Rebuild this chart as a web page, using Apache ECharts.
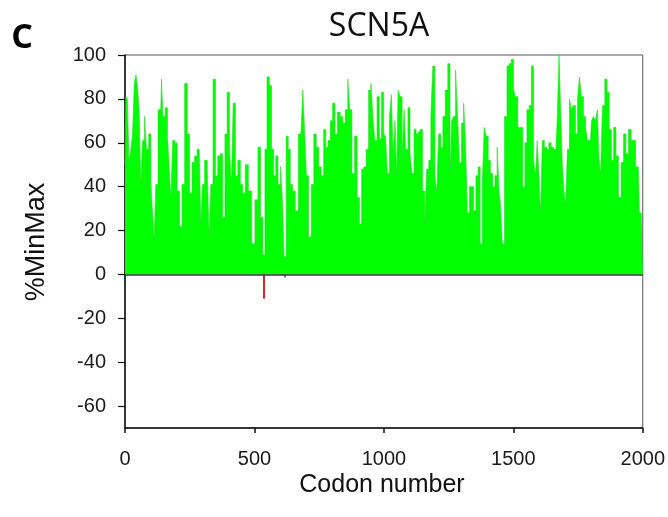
<!DOCTYPE html>
<html>
<head>
<meta charset="utf-8">
<script src="https://cdn.jsdelivr.net/npm/echarts@6/dist/echarts.min.js"></script>
<style>
  html, body { margin: 0; padding: 0; background: #fff; }
  #chart { width: 668px; height: 517px; }
</style>
</head>
<body>
<div id="chart"></div>
<script>
// codon positions and %MinMax (peaks and dips of the envelope)
var codons = [
  0, 6, 12, 19, 26, 32, 40, 45, 51, 58, 64, 71, 80, 86, 97, 103, 109, 116, 122, 133,
  138, 144, 149, 161, 167, 174, 180, 189, 197, 206, 215, 225, 236, 245, 254, 264, 274, 283, 290, 296,
  302, 313, 322, 328, 335, 345, 354, 363, 373, 382, 390, 399, 408, 414, 422, 431, 441, 450, 459, 470,
  483, 496, 508, 519, 528, 537, 544, 553, 562, 570, 579, 586, 596, 605, 611, 618, 627, 634, 643, 652,
  663, 676, 683, 691, 698, 704, 714, 725, 734, 744, 753, 763, 772, 779, 789, 797, 807, 815, 826, 836,
  846, 856, 865, 871, 882, 892, 901, 910, 918, 927, 936, 946, 954, 961, 969, 978, 987, 995, 1003, 1010,
  1017, 1026, 1032, 1040, 1046, 1052, 1058, 1066, 1075, 1081, 1088, 1098, 1104, 1113, 1120, 1129, 1136, 1145, 1154, 1162,
  1169, 1178, 1185, 1193, 1201, 1207, 1216, 1224, 1232, 1242, 1252, 1259, 1265, 1273, 1281, 1288, 1296, 1304, 1312, 1319,
  1326, 1335, 1342, 1351, 1360, 1368, 1376, 1384, 1391, 1399, 1407, 1416, 1425, 1433, 1442, 1448, 1454, 1461, 1471, 1480,
  1487, 1497, 1505, 1512, 1523, 1532, 1541, 1548, 1557, 1566, 1574, 1582, 1589, 1596, 1602, 1609, 1615, 1625, 1634, 1641,
  1651, 1660, 1667, 1673, 1680, 1686, 1692, 1699, 1705, 1713, 1721, 1728, 1736, 1744, 1752, 1759, 1767, 1775, 1783, 1790,
  1798, 1806, 1813, 1821, 1828, 1834, 1840, 1849, 1858, 1866, 1875, 1883, 1892, 1901, 1911, 1922, 1930, 1940, 1950, 1960,
  1969, 1976, 1983, 1991, 2000
]
var minMax = [
  50, 81, 80, 51, 57, 64, 87, 91, 86, 75, 41, 61, 72, 57, 64, 41, 29, 16, 41, 75,
  75, 89, 72, 76, 63, 49, 35, 61, 60, 38, 22, 41, 87, 64, 37, 51, 54, 57, 57, 23,
  41, 52, 48, 17, 41, 89, 45, 54, 55, 26, 64, 83, 57, 41, 78, 45, 52, 41, 37, 50,
  38, 14, 34, 58, 26, 9, 57, 90, 86, 57, 45, 54, 41, 49, 34, 8, 63, 57, 41, 38,
  29, 64, 64, 84, 63, 45, 17, 41, 64, 58, 49, 45, 66, 58, 61, 70, 78, 64, 74, 72,
  69, 75, 89, 75, 46, 63, 35, 23, 48, 49, 57, 84, 87, 72, 61, 81, 62, 83, 64, 63,
  46, 72, 82, 54, 70, 45, 84, 81, 52, 75, 57, 76, 55, 46, 66, 64, 65, 66, 38, 23,
  48, 52, 72, 95, 45, 37, 64, 58, 72, 84, 96, 45, 70, 72, 93, 72, 51, 69, 78, 60,
  28, 40, 40, 29, 45, 49, 14, 41, 67, 63, 52, 46, 40, 45, 58, 38, 31, 14, 72, 95,
  96, 98, 84, 81, 67, 67, 40, 60, 75, 77, 95, 52, 45, 61, 45, 28, 61, 58, 57, 60,
  58, 57, 54, 72, 100, 75, 51, 38, 32, 57, 80, 75, 77, 64, 80, 90, 81, 72, 67, 61,
  61, 70, 72, 70, 75, 52, 46, 77, 89, 83, 66, 52, 67, 54, 35, 51, 64, 55, 66, 61,
  61, 49, 49, 28, 28
]
// the few negative codons
var negCodons = [537, 618]
var negValues = [-11, -1.5]

var yTicks = [-60, -40, -20, 0, 20, 40, 60, 80, 100]

var chart = echarts.init(document.getElementById('chart'))

var seriesData = codons.map(function(c, i) {
  return [c, minMax[i]]
})
var negData = negCodons.map(function(c, i) {
  return {
    value: [c, negValues[i]],
    itemStyle: { color: i === 0 ? '#d22a2a' : '#8a8a8a' }
  }
})

var labelFont = 'Liberation Sans, Arial, sans-serif'

chart.setOption({
  animation: false,
  backgroundColor: '#fff',
  grid: {
    left: 125,
    right: 25,
    top: 55,
    bottom: 89,
    show: true,
    borderColor: '#555',
    borderWidth: 1
  },
  xAxis: {
    type: 'value',
    min: 0,
    max: 2000,
    interval: 500,
    axisLine: { onZero: false, lineStyle: { color: '#111', width: 1.5 } },
    axisTick: { inside: false, length: 5, lineStyle: { color: '#111', width: 1.5 } },
    axisLabel: {
      fontSize: 20, color: '#1a1a1a', margin: 21, fontFamily: labelFont,
      formatter: function(v) { return String(v) }
    },
    splitLine: { show: false }
  },
  yAxis: {
    type: 'value',
    min: -70,
    max: 100,
    interval: 10,
    axisLine: { show: true, lineStyle: { color: '#111', width: 1.5 } },
    axisTick: { show: true, inside: false, length: 7, customValues: yTicks, lineStyle: { color: '#111', width: 1.2 } },
    axisLabel: { fontSize: 20, color: '#1a1a1a', margin: 19, customValues: yTicks, fontFamily: labelFont },
    splitLine: { show: false }
  },
  graphic: [
    {
      type: 'text',
      x: 22, y: 38,
      style: { text: 'C', fontSize: 34, fontWeight: 'bold', fontFamily: 'Open Sans, sans-serif', fill: '#000', align: 'center', verticalAlign: 'middle' }
    },
    {
      type: 'text',
      x: 379, y: 27,
      style: { text: 'SCN5A', fontSize: 32, fontFamily: 'Open Sans, sans-serif', fill: '#111', align: 'center', verticalAlign: 'middle' }
    },
    {
      type: 'text',
      x: 37, y: 242,
      rotation: Math.PI / 2,
      style: { text: '%MinMax', fontSize: 27, fontFamily: labelFont, fill: '#111', align: 'center', verticalAlign: 'middle' }
    },
    {
      type: 'text',
      x: 382, y: 485,
      style: { text: 'Codon number', fontSize: 25, fontFamily: labelFont, fill: '#111', align: 'center', verticalAlign: 'middle' }
    }
  ],
  series: [
    {
      type: 'line',
      data: seriesData,
      step: 'middle',
      symbol: 'none',
      lineStyle: { color: '#22dd22', width: 0.6 },
      areaStyle: { color: '#00ff00', opacity: 1, origin: 0 },
      markLine: {
        silent: true,
        symbol: 'none',
        label: { show: false },
        lineStyle: { color: '#333', width: 1.5, type: 'solid' },
        data: [{ yAxis: 0 }]
      },
      z: 2
    },
    {
      type: 'bar',
      data: negData,
      barWidth: 2,
      z: 3
    }
  ]
})
</script>
</body>
</html>
